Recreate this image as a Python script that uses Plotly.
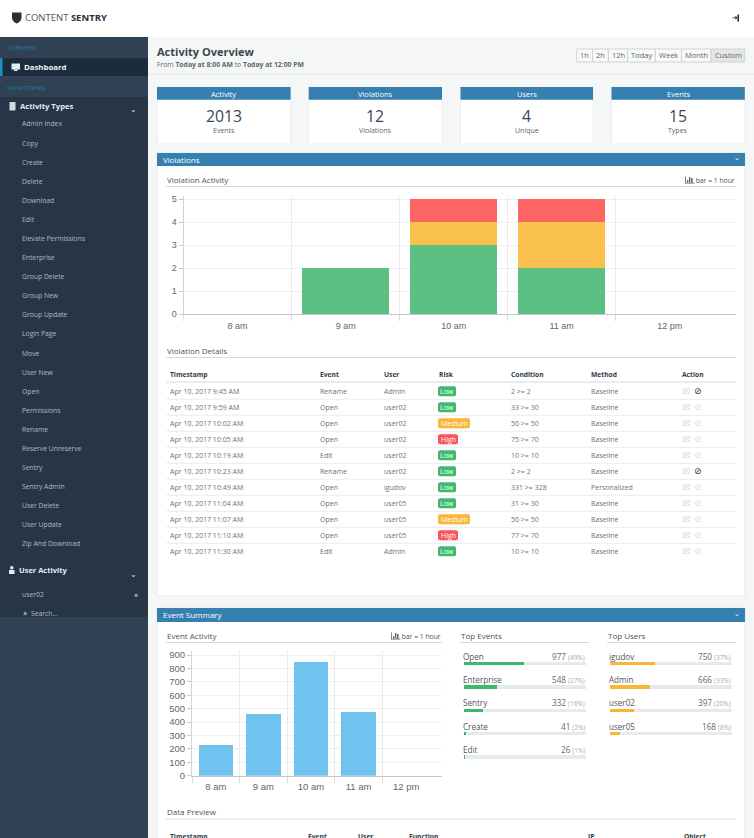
import plotly.graph_objects as go

W = 754
H = 838

# sidebar
activity_types = ['Admin Index', 'Copy', 'Create', 'Delete', 'Download', 'Edit', 'Elevate Permissions',
                  'Enterprise', 'Group Delete', 'Group New', 'Group Update', 'Login Page', 'Move', 'User New',
                  'Open', 'Permissions', 'Rename', 'Reserve Unreserve', 'Sentry', 'Sentry Admin', 'User Delete',
                  'User Update', 'Zip And Download']

# cards
card_titles = ['Activity', 'Violations', 'Users', 'Events']
card_values = ['2013', '12', '4', '15']
card_units = ['Events', 'Violations', 'Unique', 'Types']
range_buttons = ['1h', '2h', '12h', 'Today', 'Week', 'Month', 'Custom']

# bar charts
hours = [8, 9, 10, 11, 12]
hour_labels = ['8 am', '9 am', '10 am', '11 am', '12 pm']
violations_low = [0, 2, 3, 2, 0]
violations_medium = [0, 0, 1, 2, 0]
violations_high = [0, 0, 1, 1, 0]
event_counts = [230, 461, 845, 477, 0]

# violation details
det_time = ['Apr 10, 2017 9:45 AM', 'Apr 10, 2017 9:59 AM', 'Apr 10, 2017 10:02 AM', 'Apr 10, 2017 10:05 AM',
            'Apr 10, 2017 10:19 AM', 'Apr 10, 2017 10:23 AM', 'Apr 10, 2017 10:49 AM', 'Apr 10, 2017 11:04 AM',
            'Apr 10, 2017 11:07 AM', 'Apr 10, 2017 11:10 AM', 'Apr 10, 2017 11:30 AM']
det_event = ['Rename', 'Open', 'Open', 'Open', 'Edit', 'Rename', 'Open', 'Open', 'Open', 'Open', 'Edit']
det_user = ['Admin', 'user02', 'user02', 'user02', 'user02', 'user02', 'igudov', 'user05', 'user05', 'user05', 'Admin']
det_risk = ['Low', 'Low', 'Medium', 'High', 'Low', 'Low', 'Low', 'Low', 'Medium', 'High', 'Low']
det_cond = ['2 >= 2', '33 >= 30', '50 >= 50', '75 >= 70', '10 >= 10', '2 >= 2', '331 >= 328', '31 >= 30',
            '50 >= 50', '77 >= 70', '10 >= 10']
det_method = ['Baseline', 'Baseline', 'Baseline', 'Baseline', 'Baseline', 'Baseline', 'Personalized', 'Baseline',
              'Baseline', 'Baseline', 'Baseline']
det_blocked = [True, False, False, False, False, True, False, False, False, False, False]

# top lists
top_events = ['Open', 'Enterprise', 'Sentry', 'Create', 'Edit']
top_events_count = [977, 548, 332, 41, 26]
top_events_pct = [49, 27, 16, 2, 1]
top_users = ['igudov', 'Admin', 'user02', 'user05']
top_users_count = [750, 666, 397, 168]
top_users_pct = [37, 33, 20, 8]

FONT = 'Open Sans'
CHART_FONT = 'Liberation Sans'
BLUE = '#3580b0'
SIDE = '#263646'
SIDE_LIGHT = '#2f4153'
SIDE_DARK = '#1b2c3c'
GREEN = '#3cb96b'
ORANGE = '#fbb534'
RED = '#f9545b'

shapes = []
notes = []


def px(x):
    return x / W


def py(y):
    return 1 - y / H


def rect(x0, y0, x1, y1, color, line=None):
    shapes.append(dict(type='rect', xref='paper', yref='paper', x0=px(x0), x1=px(x1), y0=py(y0), y1=py(y1),
                       fillcolor=color, line=dict(color=line, width=1) if line else dict(width=0), layer='below'))


def hline(x0, x1, y, color='#dfe3e6', width=1):
    shapes.append(dict(type='line', xref='paper', yref='paper', x0=px(x0), x1=px(x1), y0=py(y), y1=py(y),
                       line=dict(color=color, width=width), layer='below'))


def round_rect(x0, y0, x1, y1, r, color):
    path = (f'M {px(x0 + r)} {py(y0)} L {px(x1 - r)} {py(y0)} Q {px(x1)} {py(y0)} {px(x1)} {py(y0 + r)} '
            f'L {px(x1)} {py(y1 - r)} Q {px(x1)} {py(y1)} {px(x1 - r)} {py(y1)} '
            f'L {px(x0 + r)} {py(y1)} Q {px(x0)} {py(y1)} {px(x0)} {py(y1 - r)} '
            f'L {px(x0)} {py(y0 + r)} Q {px(x0)} {py(y0)} {px(x0 + r)} {py(y0)} Z')
    shapes.append(dict(type='path', xref='paper', yref='paper', path=path, fillcolor=color,
                       line=dict(width=0), layer='below'))


def text(x, y, s, size=8, color='#555', anchor='left', bold=False, family=FONT):
    # annotations sit about a pixel right of the anchor when left aligned
    if anchor == 'left':
        x = x - 1
    notes.append(dict(xref='paper', yref='paper', x=px(x), y=py(y), text=f'<b>{s}</b>' if bold else s,
                      showarrow=False, xanchor=anchor, yanchor='middle', borderpad=0,
                      font=dict(family=family, size=size, color=color)))


def heading(x0, x1, y, s, bar_note=False):
    text(x0 + 0.5, y - 1, s, size=8, color='#4a5560', bold=False)
    hline(x0, x1, y + 6.5, '#d6dadd', 1.2)
    if bar_note:
        text(x1 - 0.5, y, '1 bar = 1 hour', size=6.8, color='#555', anchor='right')
        # little bar chart icon next to the note
        ix = x1 - 51
        rect(ix, y - 3.5, ix + 0.8, y + 3.5, '#666')
        rect(ix, y + 2.7, ix + 9.5, y + 3.5, '#666')
        for off, top in [(2, 0), (4, -3), (6, -1.5)]:
            rect(ix + off, y + top, ix + off + 1.3, y + 2.7, '#666')


# page background, header, sidebar
rect(0, 0, W, H, '#f5f7f7')
rect(0, 0, W, 37, '#ffffff')
rect(0, 37, 148, H, SIDE)
rect(0, 37, 148, 58, SIDE_LIGHT)
rect(0, 58, 148, 76, SIDE_DARK)
rect(0, 58, 2.5, 76, '#1b8fc4')
rect(0, 76, 148, 97, SIDE_LIGHT)
rect(0, 617, 148, H, SIDE_LIGHT)
hline(148, W, 74.5, '#e4e8ea')

# logo
shapes.append(dict(type='path', xref='paper', yref='paper', fillcolor='#2a2f36', line=dict(width=0), layer='below',
                   path=f'M {px(12)} {py(12.5)} L {px(21.5)} {py(12.5)} L {px(21.5)} {py(18)} '
                        f'Q {px(21)} {py(21.5)} {px(16.7)} {py(23.5)} Q {px(12.5)} {py(21.5)} {px(12)} {py(18)} Z'))
text(24.5, 17.5, 'CONTENT <b style="color:#2a2f36">SENTRY</b>', size=9.5, color='#555')
# logout icon
text(734.5, 18, '\u279c', size=7, color='#222', anchor='center', family='DejaVu Sans')
rect(737.5, 14.5, 739, 21.5, '#222')

# sidebar texts
text(6.5, 48.5, 'OVERVIEW', size=6, color='#1e7fa8')
rect(11.5, 63.5, 20, 69.5, '#e8edf0')
rect(14, 69.5, 17.5, 71, '#e8edf0')
text(24, 67, 'Dashboard', size=7.8, color='#eef2f4', bold=True)
text(6.5, 88, 'MONITORING', size=6, color='#1e7fa8')
rect(9.5, 102, 15.5, 110.5, '#d5dbe0')
text(20, 106, 'Activity Types', size=7.7, color='#e6ebee', bold=True)
text(133, 110, '\u2304', size=8, color='#dfe5e9', anchor='center', family='DejaVu Sans')
for i, name in enumerate(activity_types):
    text(22, 124 + i * 19.09, name, size=6.8, color='#aeb9c3')
shapes.append(dict(type='circle', xref='paper', yref='paper', x0=px(10), x1=px(13.5), y0=py(566), y1=py(569.5),
                   fillcolor='#e6ebee', line=dict(width=0), layer='below'))
rect(9, 570, 14.5, 574, '#e6ebee')
text(19, 570, 'User Activity', size=7.5, color='#e6ebee', bold=True)
text(133, 574, '\u2304', size=8, color='#dfe5e9', anchor='center', family='DejaVu Sans')
text(22, 594, 'user02', size=6.8, color='#aeb9c3')
text(136, 595, '\u00d7', size=7, color='#c8d0d6', anchor='center', bold=True)
text(24.5, 613.5, '\u2315', size=8, color='#c8d0d6', anchor='center', family='DejaVu Sans')
text(31, 613.5, 'Search...', size=6.8, color='#aeb9c3')

# title row
text(157, 51.5, 'Activity Overview', size=11, color='#3c4650', bold=True)
text(157, 64.5, 'From <b>Today at 8:00 AM</b> to <b>Today at 12:00 PM</b>', size=6.8, color='#5c666f')

btn_edges = [576.8, 592.6, 608.4, 627.7, 655.4, 681.6, 711.2, 744.8]
for i, label in enumerate(range_buttons):
    active = label == 'Custom'
    rect(btn_edges[i], 49, btn_edges[i + 1], 62, '#e4e6e6' if active else '#f8f9f9', '#cfd3d5')
    text((btn_edges[i] + btn_edges[i + 1]) / 2, 55.5, label, size=7.5, color='#666', anchor='center')

# cards
card_edges = [(157, 290.6), (308.7, 442), (460.5, 593), (611.5, 744.8)]
for (x0, x1), title, value, unit in zip(card_edges, card_titles, card_values, card_units):
    rect(x0, 87, x1, 144, '#ffffff', '#eceef0')
    rect(x0, 87, x1, 99.7, BLUE)
    mid = (x0 + x1) / 2
    text(mid, 93.5, title, size=7.5, color='#ffffff', anchor='center')
    text(mid, 116, value, size=15.8, color='#3c4650', anchor='center')
    text(mid, 130.5, unit, size=7, color='#5c666f', anchor='center')

# violations panel
rect(157, 153, 745, 596, '#ffffff', '#e6e9eb')
rect(157, 153, 745, 166, BLUE)
text(163, 159, 'Violations', size=8, color='#ffffff')
text(737, 158, '\u2304', size=7, color='#ffffff', anchor='center', family='DejaVu Sans')
heading(166, 736, 180, 'Violation Activity', bar_note=True)
heading(166, 736, 351, 'Violation Details')

columns = [169.7, 320, 383.7, 438.7, 511, 591, 682.3]
col_titles = ['Timestamp', 'Event', 'User', 'Risk', 'Condition', 'Method', 'Action']
for x, title in zip(columns, col_titles):
    text(x, 374.7, title, size=6.7, color='#333c44', bold=True)
hline(166, 736, 382, '#d6dadd', 1.2)

badge_color = {'Low': GREEN, 'Medium': ORANGE, 'High': RED}
badge_width = {'Low': 18, 'Medium': 32, 'High': 20}
for i in range(len(det_time)):
    y = 391.3 + i * 16
    text(columns[0], y, det_time[i], size=7, color='#707070')
    text(columns[1], y, det_event[i], size=7, color='#707070')
    text(columns[2], y, det_user[i], size=7, color='#707070')
    text(columns[4], y, det_cond[i], size=7, color='#707070')
    text(columns[5], y, det_method[i], size=7, color='#707070')
    bw = badge_width[det_risk[i]]
    round_rect(438, y - 5, 438 + bw, y + 5, 2, badge_color[det_risk[i]])
    text(438 + bw / 2, y, det_risk[i], size=7, color='#ffffff', anchor='center')
    text(685.7, y, '\u2709', size=10, color='#d8dcde', anchor='center', family='DejaVu Sans')
    text(698, y, '\u2298', size=9, color='#333' if det_blocked[i] else '#d8dcde', anchor='center', family='DejaVu Sans')
    if i < len(det_time) - 1:
        hline(166, 736, y + 8, '#eef0f1', 1.2)

# event summary panel
rect(157, 608, 745, H + 5, '#ffffff', '#e6e9eb')
rect(157, 608, 745, 622, BLUE)
text(163, 614.5, 'Event Summary', size=8, color='#ffffff')
text(737, 613.5, '\u2304', size=7, color='#ffffff', anchor='center', family='DejaVu Sans')
heading(166, 442, 636, 'Event Activity', bar_note=True)
heading(460, 589, 636, 'Top Events')
heading(607, 736, 636, 'Top Users')
heading(166, 736, 812.5, 'Data Preview')
preview_cols = [(169.7, 'Timestamp'), (307.7, 'Event'), (357.7, 'User'), (409, 'Function'), (588, 'IP'), (684, 'Object')]
for x, title in preview_cols:
    text(x, 836, title, size=6.7, color='#333c44', bold=True)


def chart_axes(left, right, top, bottom, x_end, y_end, size, dtick, yname, xname, label_gap):
    xax = dict(domain=[px(left), px(right)], range=[7.5, x_end], anchor=yname, automargin=False, tickmode='array',
               tickvals=hours, ticktext=hour_labels, ticks='outside', ticklen=label_gap, tickcolor='rgba(0,0,0,0)',
               showgrid=False, showline=True, linecolor='#c4c8cb', zeroline=False,
               tickfont=dict(family=CHART_FONT, size=size, color='#666'),
               minor=dict(tickmode='array', tickvals=[h - 0.5 for h in hours], showgrid=True, gridcolor='#e8eaec',
                          gridwidth=1, ticks='outside', ticklen=6, tickcolor='#dcdfe1'))
    yax = dict(domain=[py(bottom), py(top)], range=[0, y_end], anchor=xname, automargin=False, dtick=dtick,
               showgrid=True, gridcolor='#eef0f1', gridwidth=1, zeroline=False, showline=True, linecolor='#d2d5d8',
               ticks='outside', ticklen=4, tickcolor='#c4c8cb',
               tickfont=dict(family=CHART_FONT, size=size, color='#666'))
    return xax, yax


fig = go.Figure()
for name, values, color in [('Low', violations_low, '#5cc083'), ('Medium', violations_medium, '#fac14f'),
                            ('High', violations_high, '#ff6464')]:
    fig.add_trace(go.Bar(x=hours, y=values, name=name, width=0.8, marker=dict(color=color, line=dict(width=0)),
                         xaxis='x', yaxis='y'))

fig.add_trace(go.Bar(x=hours, y=event_counts, name='Events', width=0.72, marker=dict(color='#6fc3ee', line=dict(width=0)),
                     xaxis='x2', yaxis='y2'))

# progress bars, filled part plus the rest of the track
fig.add_trace(go.Bar(y=top_events, x=top_events_pct, orientation='h', width=0.15, marker=dict(color=GREEN, line=dict(width=0)),
                     xaxis='x3', yaxis='y3'))
fig.add_trace(go.Bar(y=top_events, x=[100 - p for p in top_events_pct], orientation='h', width=0.15,
                     marker=dict(color='#e6eaed', line=dict(width=0)), xaxis='x3', yaxis='y3'))
fig.add_trace(go.Bar(y=top_users, x=top_users_pct, orientation='h', width=0.15, marker=dict(color=ORANGE, line=dict(width=0)),
                     xaxis='x4', yaxis='y4'))
fig.add_trace(go.Bar(y=top_users, x=[100 - p for p in top_users_pct], orientation='h', width=0.15,
                     marker=dict(color='#e6eaed', line=dict(width=0)), xaxis='x4', yaxis='y4'))


def top_labels(names, counts, pcts, xref, yref):
    for name, count, pct in zip(names, counts, pcts):
        notes.append(dict(xref=xref, yref=yref, x=0, y=name, text=name, showarrow=False, xanchor='left', yshift=7.5,
                          xshift=-2, borderpad=0, font=dict(family=FONT, size=8.1, color='#555')))
        notes.append(dict(xref=xref, yref=yref, x=100, y=name, showarrow=False, xanchor='right', yshift=7.5,
                          borderpad=0, text=f'{count} <span style="font-size:6.5px;color:#aaa">({pct}%)</span>',
                          font=dict(family=FONT, size=8.1, color='#666')))


top_labels(top_events, top_events_count, top_events_pct, 'x3', 'y3')
top_labels(top_users, top_users_count, top_users_pct, 'x4', 'y4')

xaxis1, yaxis1 = chart_axes(183.6, 735.6, 196, 314.3, 12.61, 5.14, 9, 1, 'y', 'x', 3)
xaxis2, yaxis2 = chart_axes(192, 441.7, 651, 775.7, 12.746, 930, 9.5, 100, 'y2', 'x2', 2)

fig.update_layout(
    template='none', width=W, height=H, autosize=False, margin=dict(l=0, r=0, t=0, b=0, pad=0), showlegend=False,
    barmode='stack', paper_bgcolor='#f5f7f7', plot_bgcolor='rgba(0,0,0,0)', shapes=shapes, annotations=notes,
    xaxis=xaxis1, yaxis=yaxis1, xaxis2=xaxis2, yaxis2=yaxis2,
    xaxis3=dict(domain=[px(463.5), px(586)], range=[0, 100], visible=False, anchor='y3'),
    yaxis3=dict(domain=[py(768.8), py(651.8)], range=[4.5, -0.5], visible=False, type='category',
                categoryorder='array', categoryarray=top_events, anchor='x3'),
    xaxis4=dict(domain=[px(610), px(732)], range=[0, 100], visible=False, anchor='y4'),
    yaxis4=dict(domain=[py(745.4), py(651.8)], range=[3.5, -0.5], visible=False, type='category',
                categoryorder='array', categoryarray=top_users, anchor='x4'),
)

fig.write_html('out.html', config=dict(displayModeBar=False),
               post_script="document.body.style.margin='0';document.documentElement.style.overflow='hidden';")
